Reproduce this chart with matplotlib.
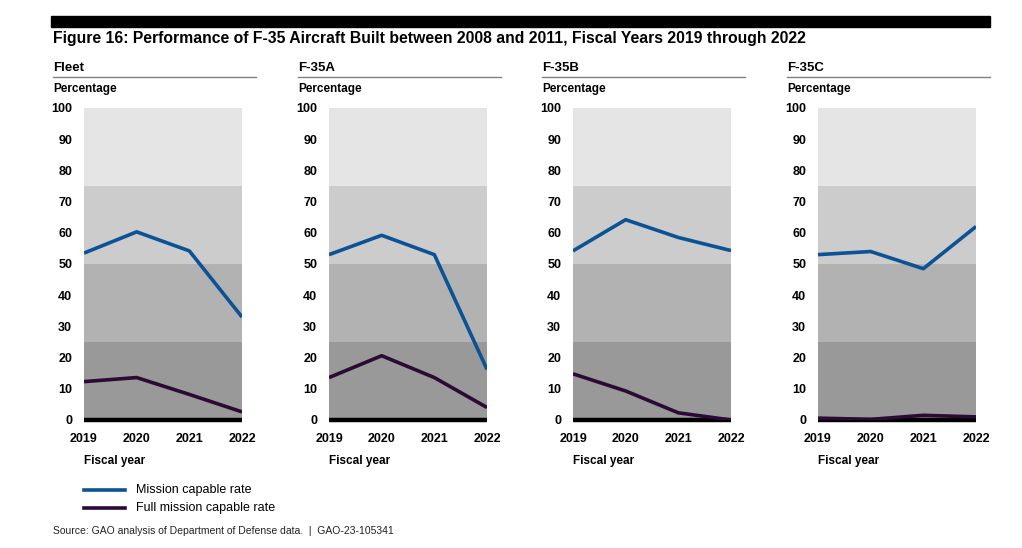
import numpy as np
import matplotlib.pyplot as plt
from matplotlib.lines import Line2D

plt.rcParams['font.family'] = ['Liberation Sans', 'DejaVu Sans']

# data
years = [2019, 2020, 2021, 2022]
panels = ["Fleet", "F-35A", "F-35B", "F-35C"]
mission_capable = [
    [53.5, 60.3, 54.2, 33.0],
    [53.0, 59.2, 53.0, 16.2],
    [54.2, 64.2, 58.5, 54.3],
    [53.0, 54.0, 48.5, 62.0],
]
full_mission_capable = [
    [12.3, 13.6, 8.2, 2.6],
    [13.6, 20.6, 13.6, 4.0],
    [14.8, 9.3, 2.3, 0.0],
    [0.6, 0.2, 1.5, 1.0],
]
yticks = [0, 10, 20, 30, 40, 50, 60, 70, 80, 90, 100]
bands = [(0, 25, "#999999"), (25, 50, "#b2b2b2"), (50, 75, "#cccccc"), (75, 100, "#e5e5e5")]

MC_COLOR = "#0b5394"
FMC_COLOR = "#2b0a35"

W, H = 1022, 548
fig = plt.figure(figsize=(W / 100, H / 100), dpi=100)


def fx(px):
    return px / W


def fy(py):
    return 1 - py / H


# header bar + title
fig.add_artist(plt.Rectangle((fx(51), fy(27)), fx(990 - 51), 11 / H, color="black",
                             transform=fig.transFigure))
fig.text(fx(53), fy(38), "Figure 16: Performance of F-35 Aircraft Built between 2008 and 2011, Fiscal Years 2019 through 2022",
         fontsize=11.3, fontweight="bold", va="center", ha="left")

lefts = [84, 329, 573, 818]
for i, name in enumerate(panels):
    l = lefts[i]
    ax = fig.add_axes([fx(l), fy(420), fx(158), (420 - 108) / H])
    for lo, hi, c in bands:
        ax.axhspan(lo, hi, color=c, lw=0, zorder=0)
    ax.axhline(0, color="black", lw=3.2, zorder=2, clip_on=False, solid_capstyle="butt")
    ax.plot(years, mission_capable[i], color=MC_COLOR, lw=2.6, zorder=3, solid_capstyle="butt")
    ax.plot(years, full_mission_capable[i], color=FMC_COLOR, lw=2.6, zorder=3, solid_capstyle="butt")
    ax.set_xlim(2019, 2022)
    ax.set_ylim(0, 100)
    ax.set_xticks(years)
    ax.set_yticks(yticks)
    ax.tick_params(length=0, labelsize=9)
    ax.tick_params(axis="y", pad=8.5)
    ax.tick_params(axis="x", pad=9)
    for lab in ax.get_xticklabels() + ax.get_yticklabels():
        lab.set_fontweight("bold")
    for s in ax.spines.values():
        s.set_visible(False)

    # panel header
    tx = l - 31
    fig.text(fx(tx), fy(68), name, fontsize=9.5, fontweight="bold", va="center", ha="left")
    fig.add_artist(Line2D([fx(tx), fx(l + 172)], [fy(77), fy(77)], color="#808080", lw=1,
                          transform=fig.transFigure))
    fig.text(fx(tx), fy(89), "Percentage", fontsize=8.5, fontweight="bold", va="center", ha="left")
    fig.text(fx(l), fy(461), "Fiscal year", fontsize=8.5, fontweight="bold", va="center", ha="left")

# legend
for yy, c, lab in [(490, MC_COLOR, "Mission capable rate"), (508, FMC_COLOR, "Full mission capable rate")]:
    fig.add_artist(Line2D([fx(84), fx(125)], [fy(yy), fy(yy)], color=c, lw=2.6,
                          transform=fig.transFigure))
    fig.text(fx(136), fy(yy), lab, fontsize=9, va="center", ha="left")

fig.text(fx(53), fy(531), "Source: GAO analysis of Department of Defense data.  |  GAO-23-105341",
         fontsize=7.5, va="center", ha="left", color="#222222")

fig.savefig("out.png", dpi=100)
